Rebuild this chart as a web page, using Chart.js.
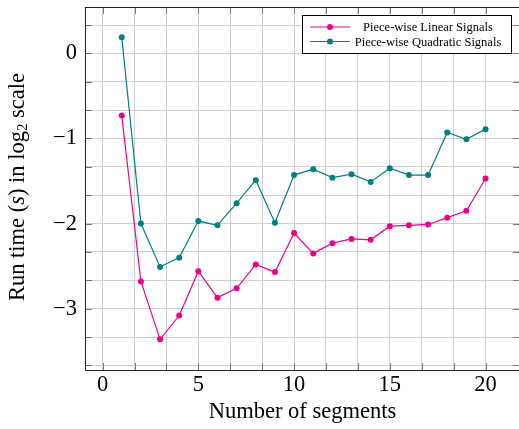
<!DOCTYPE html>
<html>
<head>
<meta charset="utf-8">
<script src="https://cdn.jsdelivr.net/npm/chart.js@4/dist/chart.umd.min.js"></script>
<style>
html,body{margin:0;padding:0;background:#fff;overflow:hidden}
#wrap{width:530px;height:429px;position:relative}
</style>
</head>
<body>
<div id="wrap"><canvas id="myChart"></canvas></div>
<script>
// data
var segments = [1,2,3,4,5,6,7,8,9,10,11,12,13,14,15,16,17,18,19,20]
var linearTimes = [-0.73,-2.68,-3.36,-3.08,-2.56,-2.87,-2.76,-2.48,-2.57,-2.11,-2.35,-2.23,-2.18,-2.19,-2.03,-2.02,-2.01,-1.93,-1.85,-1.47]
var quadraticTimes = [0.19,-2.00,-2.51,-2.40,-1.97,-2.02,-1.76,-1.49,-1.99,-1.43,-1.36,-1.46,-1.42,-1.51,-1.35,-1.43,-1.43,-0.93,-1.01,-0.89]
var xTickValues = [0,5,10,15,20]
var xTickLabels = ['0','5','10','15','20']
var yTickValues = [-3,-2,-1,0]
var yTickLabels = ['\u22123','\u22122','\u22121','0']
var seriesNames = ['Piece-wise Linear Signals','Piece-wise Quadratic Signals']
var seriesColors = ['#ec008c','#008080']

var serif = '"Liberation Serif", "DejaVu Serif", serif'
var bigSize = 22.5

function pairs(xs, ys){
    return xs.map(function(x,i){ return {x:x, y:ys[i]} })
}

function labelFor(v, vals, labels){
    for (var i=0;i<vals.length;i++){
        if (Math.abs(v-vals[i])<1e-6) return labels[i]
    }
    return ''
}

function noPad(s){
    s.paddingTop = 0; s.paddingBottom = 0; s.paddingLeft = 0; s.paddingRight = 0
}

// frame + inner tick marks
var framePlugin = {
    id:'frame',
    afterDraw: function(chart){
        var ctx = chart.ctx, a = chart.chartArea
        var xs = chart.scales.x, ys = chart.scales.y
        var len = 7
        ctx.save()
        ctx.strokeStyle = '#777'
        ctx.lineWidth = 1
        ctx.beginPath()
        xs.ticks.forEach(function(t){
            var px = Math.round(xs.getPixelForValue(t.value))+0.5
            ctx.moveTo(px,a.bottom); ctx.lineTo(px,a.bottom-len)
            ctx.moveTo(px,a.top); ctx.lineTo(px,a.top+len)
        })
        ys.ticks.forEach(function(t){
            var py = Math.round(ys.getPixelForValue(t.value))+0.5
            ctx.moveTo(a.left,py); ctx.lineTo(a.left+len,py)
            ctx.moveTo(a.right,py); ctx.lineTo(a.right-len,py)
        })
        ctx.stroke()
        ctx.strokeStyle = '#222'
        ctx.strokeRect(Math.round(a.left)+0.5, Math.round(a.top)+0.5, Math.round(a.right-a.left), Math.round(a.bottom-a.top))
        ctx.restore()
    }
}

// rotated y title with italic s and subscript 2
var yTitlePlugin = {
    id:'ytitle',
    afterDraw: function(chart){
        var ctx = chart.ctx
        var parts = [
            {t:'Run time (', f:bigSize+'px '+serif, dy:0},
            {t:'s', f:'italic '+bigSize+'px '+serif, dy:0},
            {t:') in log', f:bigSize+'px '+serif, dy:0},
            {t:'2', f:'15px '+serif, dy:5},
            {t:' scale', f:bigSize+'px '+serif, dy:0}
        ]
        ctx.save()
        var total = 0
        parts.forEach(function(p){ ctx.font = p.f; p.w = ctx.measureText(p.t).width; total += p.w })
        ctx.translate(18, 187)
        ctx.rotate(-Math.PI/2)
        ctx.fillStyle = '#000'
        ctx.textBaseline = 'middle'
        var x = -total/2
        parts.forEach(function(p){
            ctx.font = p.f
            ctx.fillText(p.t, x, p.dy)
            x += p.w
        })
        ctx.restore()
    }
}

// boxed legend inside the plot, line + marker, centred text
var legendPlugin = {
    id:'boxlegend',
    afterDraw: function(chart){
        var ctx = chart.ctx
        var bx = 302.5, by = 15.5, bw = 209, bh = 38
        ctx.save()
        ctx.fillStyle = '#fff'
        ctx.fillRect(bx,by,bw,bh)
        ctx.strokeStyle = '#000'
        ctx.lineWidth = 1
        ctx.strokeRect(bx,by,bw,bh)
        ctx.font = '12.5px '+serif
        ctx.textAlign = 'center'
        ctx.textBaseline = 'middle'
        chart.data.datasets.forEach(function(ds,i){
            var yy = 27 + i*14.5
            ctx.strokeStyle = ds.borderColor
            ctx.lineWidth = 1.2
            ctx.beginPath(); ctx.moveTo(310,yy); ctx.lineTo(350,yy); ctx.stroke()
            ctx.fillStyle = ds.borderColor
            ctx.beginPath(); ctx.arc(330,yy,3,0,Math.PI*2); ctx.fill()
            ctx.fillStyle = '#000'
            ctx.fillText(ds.label, 428, yy+1)
        })
        ctx.restore()
    }
}

var ctx = document.getElementById('myChart')
var myChart = new Chart(ctx, {
    type: 'line',
    data: {
        datasets: [{
            label: seriesNames[0],
            data: pairs(segments, linearTimes),
            borderColor: seriesColors[0],
            backgroundColor: seriesColors[0],
            borderWidth: 1.2,
            pointRadius: 3,
            pointBorderWidth: 0,
            tension: 0
        },{
            label: seriesNames[1],
            data: pairs(segments, quadraticTimes),
            borderColor: seriesColors[1],
            backgroundColor: seriesColors[1],
            borderWidth: 1.2,
            pointRadius: 3,
            pointBorderWidth: 0,
            tension: 0
        }]
    },
    options: {
        responsive: true,
        maintainAspectRatio: false,
        animation: false,
        devicePixelRatio: 1,
        layout: { padding: { top: 7, right: 10, left: 0, bottom: 0 } },
        plugins: {
            legend: { display: false },
            tooltip: { enabled: false }
        },
        scales: {
            x: {
                type: 'linear',
                min: -0.92,
                max: 21.8,
                afterBuildTicks: function(s){
                    var t = []
                    for (var k=0;k<=12;k++) t.push({value:k*5/3})
                    s.ticks = t
                },
                afterFit: function(s){ s.height = 59; noPad(s) },
                ticks: {
                    autoSkip: false,
                    maxRotation: 0,
                    padding: 2,
                    color: '#000',
                    font: { family: serif, size: bigSize },
                    callback: function(v){ return labelFor(v, xTickValues, xTickLabels) }
                },
                grid: { color: '#cfcfcf', drawTicks: false },
                border: { color: '#222' },
                title: {
                    display: true,
                    text: 'Number of segments',
                    color: '#000',
                    font: { family: serif, size: bigSize },
                    padding: { top: 3, bottom: 3 }
                }
            },
            y: {
                type: 'linear',
                min: -3.72,
                max: 0.545,
                afterBuildTicks: function(s){
                    var t = []
                    for (var k=-11;k<=1;k++) t.push({value:k/3})
                    s.ticks = t
                },
                afterFit: function(s){ s.width = 85; noPad(s) },
                ticks: {
                    autoSkip: false,
                    padding: 8,
                    color: '#000',
                    font: { family: serif, size: bigSize },
                    callback: function(v){ return labelFor(v, yTickValues, yTickLabels) }
                },
                grid: { color: '#cfcfcf', drawTicks: false },
                border: { color: '#222' }
            }
        }
    },
    plugins: [framePlugin, yTitlePlugin, legendPlugin]
});
</script>
</body>
</html>
